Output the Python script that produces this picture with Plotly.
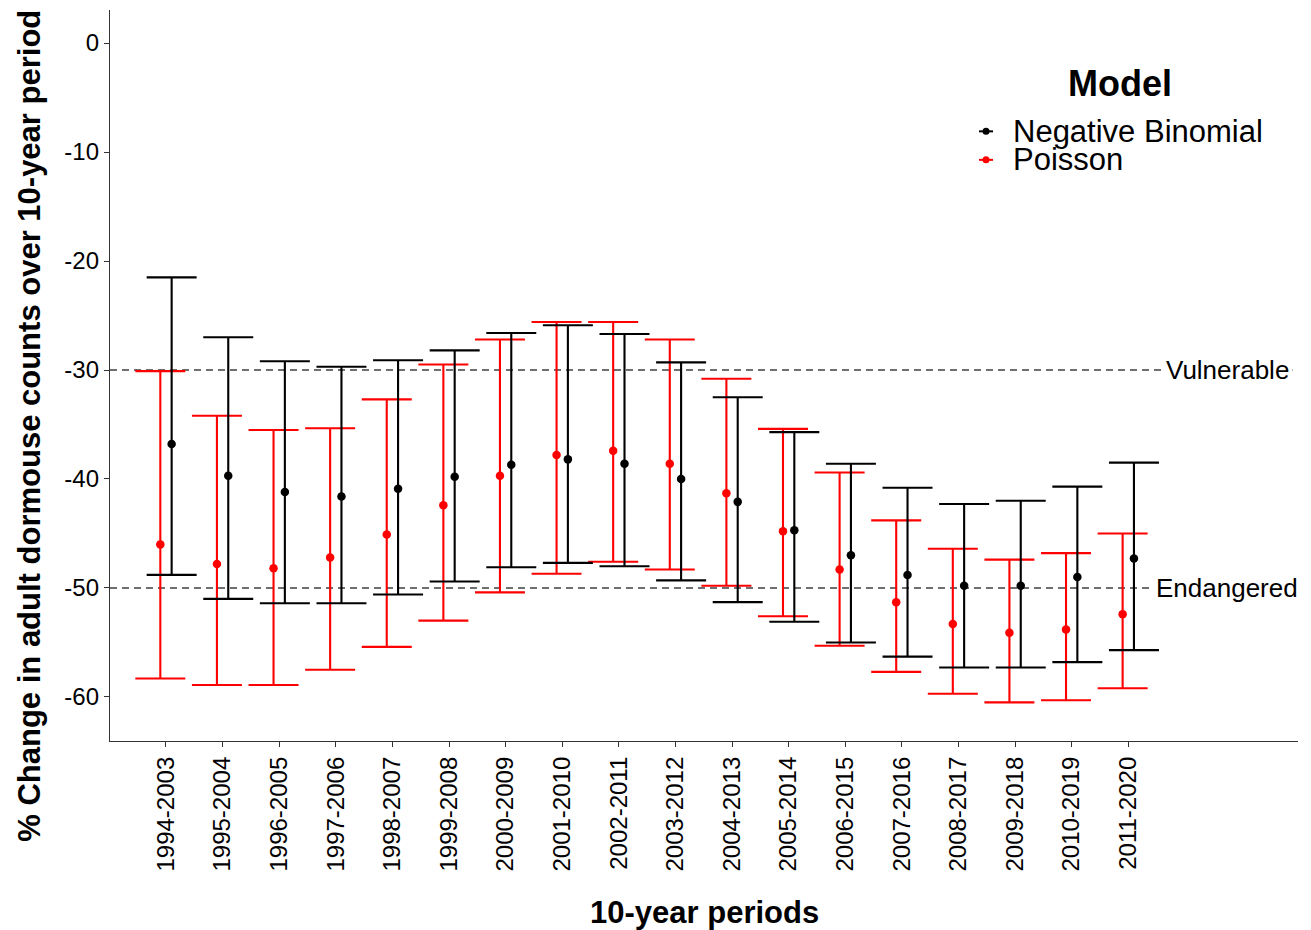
import plotly.graph_objects as go

periods = ["1994-2003", "1995-2004", "1996-2005", "1997-2006", "1998-2007", "1999-2008",
           "2000-2009", "2001-2010", "2002-2011", "2003-2012", "2004-2013", "2005-2014",
           "2006-2015", "2007-2016", "2008-2017", "2009-2018", "2010-2019", "2011-2020"]

nb_est = [-36.8, -39.7, -41.2, -41.6, -40.9, -39.8, -38.7, -38.2, -38.6, -40.0, -42.1, -44.7,
          -47.0, -48.8, -49.8, -49.8, -49.0, -47.3]
nb_upper = [-21.5, -27.0, -29.2, -29.7, -29.1, -28.2, -26.6, -25.9, -26.7, -29.3, -32.5, -35.7,
            -38.6, -40.8, -42.3, -42.0, -40.7, -38.5]
nb_lower = [-48.8, -51.0, -51.4, -51.4, -50.6, -49.4, -48.1, -47.7, -48.0, -49.3, -51.3, -53.1,
            -55.0, -56.3, -57.3, -57.3, -56.8, -55.7]

po_est = [-46.0, -47.8, -48.2, -47.2, -45.1, -42.4, -39.7, -37.8, -37.4, -38.6, -41.3, -44.8,
          -48.3, -51.3, -53.3, -54.1, -53.8, -52.4]
po_upper = [-30.1, -34.2, -35.5, -35.35, -32.7, -29.5, -27.2, -25.6, -25.6, -27.2, -30.8, -35.4,
            -39.4, -43.8, -46.4, -47.4, -46.8, -45.0]
po_lower = [-58.3, -58.9, -58.9, -57.5, -55.4, -53.0, -50.4, -48.7, -47.6, -48.3, -49.8, -52.6,
            -55.3, -57.7, -59.7, -60.5, -60.3, -59.2]

y_ticks = [0, -10, -20, -30, -40, -50, -60]
thresholds = [-30, -50]
threshold_labels = ["Vulnerable", "Endangered"]

FONT = "Liberation Sans, Arial, sans-serif"
DODGE = 0.1

pos = list(range(1, len(periods) + 1))

fig = go.Figure()


def add_model(est, lower, upper, color, offset, name):
    x = [p + offset for p in pos]
    fig.add_trace(go.Scatter(
        x=x, y=est, mode="markers", name=name,
        marker=dict(color=color, size=8.5),
        error_y=dict(type="data", symmetric=False,
                     array=[u - e for u, e in zip(upper, est)],
                     arrayminus=[e - l for e, l in zip(est, lower)],
                     color=color, thickness=2.1, width=25),
        showlegend=False,
    ))


add_model(po_est, po_lower, po_upper, "#FF0000", -DODGE, "Poisson")
add_model(nb_est, nb_lower, nb_upper, "#000000", DODGE, "Negative Binomial")

shapes = []
annotations = []
for t, lab in zip(thresholds, threshold_labels):
    shapes.append(dict(type="line", xref="paper", x0=0, x1=1, yref="y", y0=t, y1=t,
                       line=dict(color="#404040", width=1.6, dash="7px,5px"), layer="below"))
    annotations.append(dict(x=19.75, y=t, xref="x", yref="y", text=lab, showarrow=False,
                            font=dict(family=FONT, size=26, color="black"),
                            bgcolor="white", borderpad=3, xanchor="center", yanchor="middle"))

# Axis titles
annotations.append(dict(x=0.5, y=-0.234, xref="paper", yref="paper", text="<b>10-year periods</b>",
                        showarrow=False, font=dict(family=FONT, size=31, color="black"),
                        xanchor="center", yanchor="middle"))
annotations.append(dict(x=-0.0675, y=0.431, xref="paper", yref="paper",
                        text="<b>% Change in adult dormouse counts over 10-year period</b>",
                        textangle=-90, showarrow=False,
                        font=dict(family=FONT, size=31, color="black"),
                        xanchor="center", yanchor="middle"))

# Manual legend
annotations.append(dict(x=0.850, y=0.900, xref="paper", yref="paper", text="<b>Model</b>",
                        showarrow=False, font=dict(family=FONT, size=36, color="black"),
                        xanchor="center", yanchor="middle"))
legend_items = [("Negative Binomial", "#000000", 0.834), ("Poisson", "#FF0000", 0.795)]
for name, color, yp in legend_items:
    annotations.append(dict(x=0.758, y=yp, xref="paper", yref="paper", text=name,
                            showarrow=False, font=dict(family=FONT, size=31, color="black"),
                            xanchor="left", yanchor="middle"))
    shapes.append(dict(type="line", xref="paper", yref="paper", x0=0.7315, x1=0.7433,
                       y0=yp, y1=yp, line=dict(color=color, width=2)))
    shapes.append(dict(type="circle", xref="paper", yref="paper", xsizemode="pixel",
                       ysizemode="pixel", xanchor=0.7374, yanchor=yp,
                       x0=-3.5, x1=3.5, y0=-3.5, y1=3.5,
                       fillcolor=color, line=dict(color=color, width=0)))

# page body has an 8px margin, so the figure is offset by 8px; compensate
fig.update_layout(
    width=1303, height=922,
    margin=dict(l=102, r=13, t=2, b=189),
    plot_bgcolor="white", paper_bgcolor="white",
    font=dict(family=FONT, color="black"),
    shapes=shapes, annotations=annotations,
    showlegend=False,
)
fig.update_xaxes(range=[0.011, 20.998], tickmode="array", tickvals=pos, ticktext=periods,
                 tickangle=-90, tickfont=dict(family=FONT, size=24, color="black"),
                 showline=True, linecolor="#333333", linewidth=1.3,
                 ticks="outside", ticklen=5, tickcolor="#333333", tickwidth=1.3,
                 showgrid=False, zeroline=False)
fig.update_yaxes(range=[-64.04, 3.03], tickmode="array", tickvals=y_ticks,
                 ticktext=[str(v) if v == 0 else "-" + str(-v) for v in y_ticks],
                 tickfont=dict(family=FONT, size=24, color="black"),
                 showline=True, linecolor="#333333", linewidth=1.3,
                 ticks="outside", ticklen=5, tickcolor="#333333", tickwidth=1.3,
                 showgrid=False, zeroline=False)

fig.write_html("out.html")
